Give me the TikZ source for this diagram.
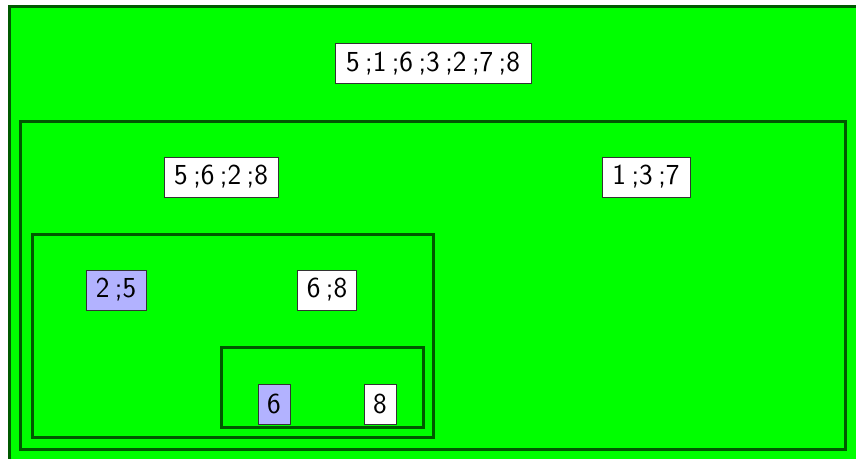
\documentclass[tikz,border=0pt]{standalone}
\begin{document}
\begin{tikzpicture}[x=1pt,y=-1pt,
  region/.style={draw=black!65!green, line width=3pt, fill=green},
  setbox/.style={draw=black!80, line width=1pt, fill=white, inner sep=0pt,
    minimum height=40pt, minimum width=#1,
    font=\sffamily\fontsize{29}{31}\selectfont,
    execute at begin node={\spaceskip=0.19em\relax}},
  setbox/.default=32pt,
  selbox/.style={setbox=#1, fill=blue!30},
  selbox/.default=32pt]
\useasboundingbox (0,0) rectangle (856,458);
\clip (0,0) rectangle (856,458);
\path[region] (9.5,6.5) rectangle (880,480);
\path[region] (20.5,121.5) rectangle (845.5,449.5);
\path[region] (32,234) rectangle (433,437);
\path[region] (221,347) rectangle (423,427);
\node[setbox=196pt] (r) at (433,63.5) {5 ;1 ;6 ;3 ;2 ;7 ;8};
\node[setbox=114pt] (a) at (221,177) {5 ;6 ;2 ;8};
\node[setbox=88pt] (b) at (646,177) {1 ;3 ;7};
\node[selbox=60pt] (c) at (116,290) {2 ;5};
\node[setbox=59pt] (d) at (327,290) {6 ;8};
\node[selbox=32pt] (e) at (274,404) {6};
\node[setbox=32pt] (f) at (380,404) {8};
\end{tikzpicture}
\end{document}
